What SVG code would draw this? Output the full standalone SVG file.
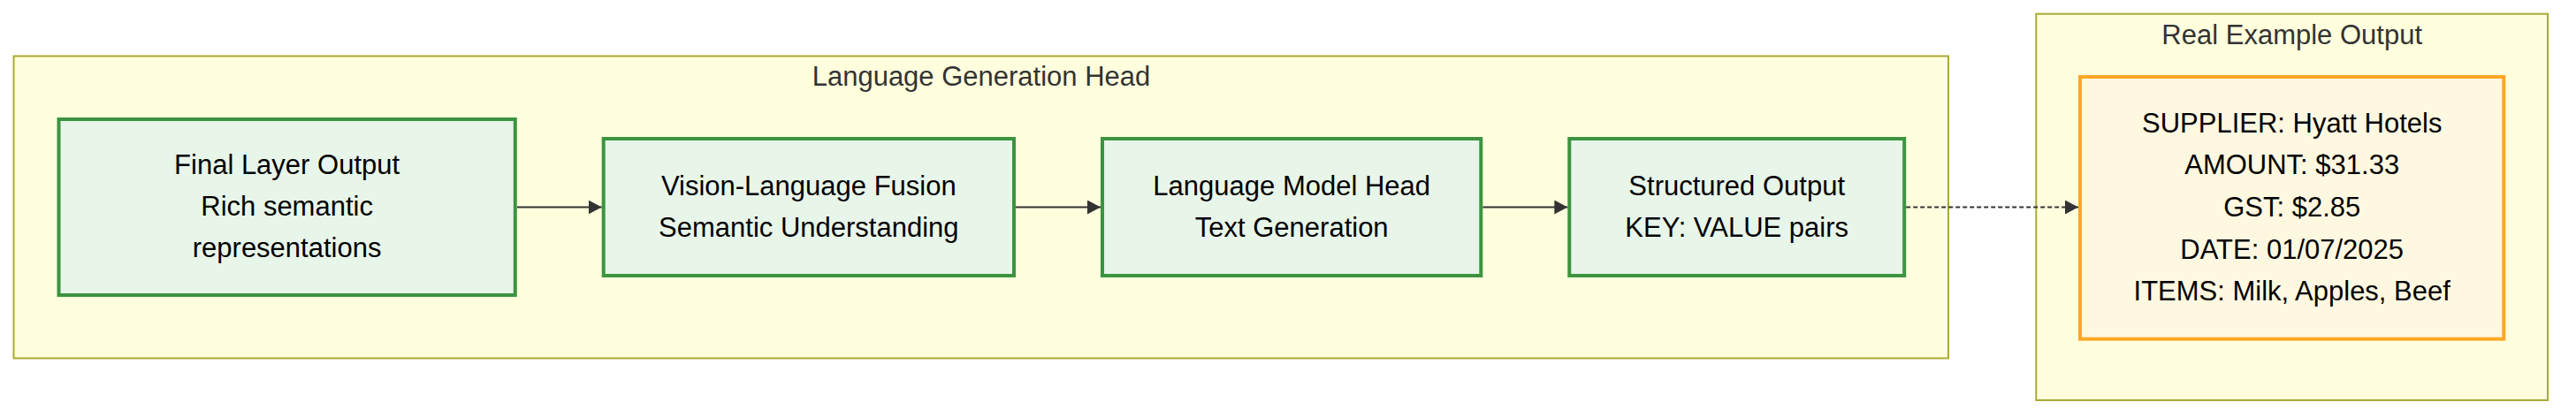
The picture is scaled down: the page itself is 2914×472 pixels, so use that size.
<svg xmlns="http://www.w3.org/2000/svg" width="2914" height="472" viewBox="0 0 2914 472">
<style>
.cluster{fill:#ffffde;stroke:#aaaa33;stroke-width:2}
.ctitle{font-family:"Trebuchet MS","Liberation Sans",Arial,sans-serif;font-size:31px;fill:#333333;text-anchor:middle}
.node{fill:#e8f5e9;stroke:#3c9440;stroke-width:4}
.out{fill:#fff8e1;stroke:#ffa726;stroke-width:4}
.label{font-family:"Trebuchet MS","Liberation Sans",Arial,sans-serif;font-size:31px;fill:#000000;text-anchor:middle}
.edge{fill:none;stroke:#333333;stroke-width:2}
.dotted{stroke-dasharray:5 3}
</style>
<defs>
<marker id="arrow" markerUnits="userSpaceOnUse" markerWidth="16" markerHeight="16" refX="15" refY="8" orient="auto">
<path d="M0,0 L15,8 L0,16 Z" fill="#333333"/>
</marker>
</defs>
<rect width="2914" height="472" fill="#ffffff"/>
<g id="cluster-language-generation-head">
<rect class="cluster" x="15.5" y="63.5" width="2188.5" height="342"/>
<text class="ctitle" x="1110" y="97">Language Generation Head</text>
</g>
<g id="cluster-real-example-output">
<rect class="cluster" x="2303.3" y="15.7" width="578.7" height="437.3"/>
<text class="ctitle" x="2592.7" y="50">Real Example Output</text>
</g>
<g id="connectors">
<line class="edge" x1="585" y1="234.5" x2="680.7" y2="234.5" marker-end="url(#arrow)"/>
<line class="edge" x1="1149" y1="234.5" x2="1245" y2="234.5" marker-end="url(#arrow)"/>
<line class="edge" x1="1677.3" y1="234.5" x2="1773.3" y2="234.5" marker-end="url(#arrow)"/>
<line class="edge dotted" x1="2156.2" y1="234.5" x2="2351" y2="234.5" marker-end="url(#arrow)"/>
</g>
<g id="node-final-layer-output">
<rect class="node" x="66.5" y="135" width="516.3" height="199"/>
<text class="label" x="324.6" y="197">Final Layer Output</text>
<text class="label" x="324.6" y="244">Rich semantic</text>
<text class="label" x="324.6" y="291">representations</text>
</g>
<g id="node-vision-language-fusion">
<rect class="node" x="682.7" y="157" width="464.3" height="155"/>
<text class="label" x="914.8" y="221">Vision-Language Fusion</text>
<text class="label" x="914.8" y="268">Semantic Understanding</text>
</g>
<g id="node-language-model-head">
<rect class="node" x="1247" y="157" width="428.3" height="155"/>
<text class="label" x="1461.2" y="221">Language Model Head</text>
<text class="label" x="1461.2" y="268">Text Generation</text>
</g>
<g id="node-structured-output">
<rect class="node" x="1775.3" y="157" width="378.9" height="155"/>
<text class="label" x="1964.7" y="221">Structured Output</text>
<text class="label" x="1964.7" y="268">KEY: VALUE pairs</text>
</g>
<g id="node-real-example">
<rect class="out" x="2353" y="87" width="479.3" height="296.7"/>
<text class="label" x="2592.7" y="149.5">SUPPLIER: Hyatt Hotels</text>
<text class="label" x="2592.7" y="197.2">AMOUNT: $31.33</text>
<text class="label" x="2592.7" y="245">GST: $2.85</text>
<text class="label" x="2592.7" y="292.7">DATE: 01/07/2025</text>
<text class="label" x="2592.7" y="340.4">ITEMS: Milk, Apples, Beef</text>
</g>
</svg>
